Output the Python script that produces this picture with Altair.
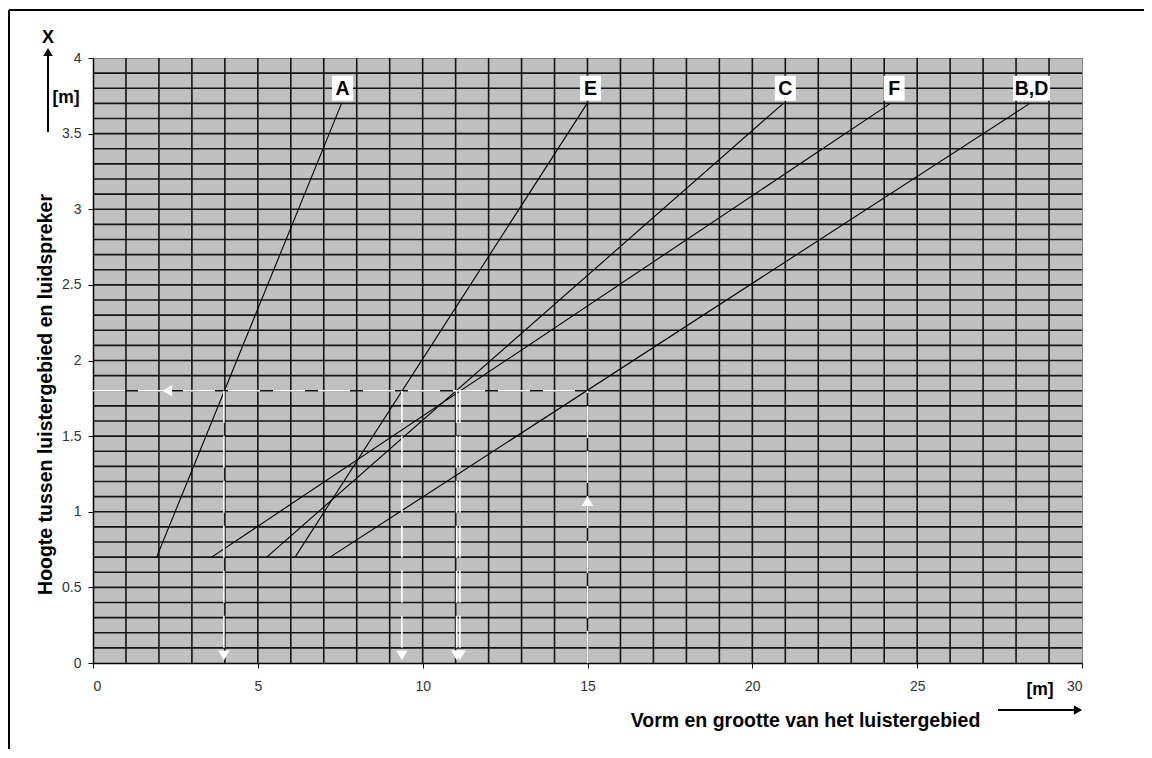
import altair as alt
import pandas as pd

# ---- data ----
series = ["A", "E", "C", "F", "B,D"]
x_start = [1.93, 6.13, 5.27, 3.60, 7.19]
x_end = [7.54, 14.99, 20.94, 24.19, 28.42]
y_start = [0.7, 0.7, 0.7, 0.7, 0.7]
y_end = [3.7, 3.7, 3.7, 3.7, 3.7]
label_x = [7.57, 15.09, 21.0, 24.3, 28.47]
label_y = [3.80, 3.80, 3.80, 3.80, 3.80]

# reading lines (dashed white guides)
guide_x1 = [0.0, 3.97, 9.37, 11.03, 11.13, 15.0]
guide_x2 = [15.0, 3.97, 9.37, 11.03, 11.13, 15.0]
guide_y1 = [1.8, 1.8, 1.8, 1.8, 1.8, 0.0]
guide_y2 = [1.8, 0.05, 0.05, 0.05, 0.05, 1.8]

arrow_x = [2.25, 3.97, 9.37, 11.03, 11.13, 15.0]
arrow_y = [1.8, 0.05, 0.05, 0.05, 0.05, 1.07]
arrow_shape = ["triangle-left", "triangle-down", "triangle-down", "triangle-down", "triangle-down", "triangle-up"]

x_ticks = [0, 5, 10, 15, 20, 25, 30]
y_ticks = [0, 0.5, 1, 1.5, 2, 2.5, 3, 3.5, 4]
grid_x = list(range(1, 30))
grid_y = [round(i * 0.1, 1) for i in range(1, 40)]

W, H = 989, 605
FONT = "Liberation Sans"
BIG = 19.5

# ---- tables ----
lines_df = pd.DataFrame(
    [{"s": s, "x": a, "y": c} for s, a, c in zip(series, x_start, y_start)]
    + [{"s": s, "x": b, "y": d} for s, b, d in zip(series, x_end, y_end)]
)
px_per_x = W / 30.0
px_per_y = H / 4.0
lab_rows = []
for s, lx, ly in zip(series, label_x, label_y):
    half_w = (13 + 8 * len(s)) / 2 / px_per_x
    half_h = 12.5 / px_per_y
    lab_rows.append({"s": s, "x": lx, "y": ly, "x1": lx - half_w, "x2": lx + half_w,
                     "y1": ly - half_h, "y2": ly + half_h})
labels_df = pd.DataFrame(lab_rows)
guides_df = pd.DataFrame({"x1": guide_x1, "x2": guide_x2, "y1": guide_y1, "y2": guide_y2})
arrows_df = pd.DataFrame({"x": arrow_x, "y": arrow_y, "shape": arrow_shape})
gx_df = pd.DataFrame({"v": grid_x})
gy_df = pd.DataFrame({"v": grid_y})
one = pd.DataFrame({"k": [0]})

xscale = alt.Scale(domain=[0, 30], nice=False, zero=False)
yscale = alt.Scale(domain=[0, 4], nice=False, zero=False)

xaxis = alt.Axis(
    values=x_ticks, grid=False, tickSize=5, tickColor="black", domainColor="black",
    domainWidth=1.5, labelPadding=11, labelFont=FONT, labelFontSize=14, labelColor="#333333",
    title="Vorm en grootte van het luistergebied", titleFont=FONT, titleFontSize=BIG,
    titleFontWeight="bold", titleColor="black", titleX=712, titleY=57,
    titleBaseline="middle", titleAlign="center",
)
yaxis = alt.Axis(
    values=y_ticks, format="~g", grid=False, tickSize=5, tickColor="black", domainColor="black",
    domainWidth=1.5, labelPadding=7, labelFont=FONT, labelFontSize=14, labelColor="#333333",
    title="Hoogte tussen luistergebied en luidspreker", titleFont=FONT, titleFontSize=BIG,
    titleFontWeight="bold", titleColor="black", titleX=-48, titleY=336,
    titleBaseline="middle", titleAlign="center", titleAngle=270,
)

grid_v = alt.Chart(gx_df).mark_rule(color="#151515", strokeWidth=1.6).encode(
    x=alt.X("v:Q", scale=xscale, axis=xaxis)
)
grid_h = alt.Chart(gy_df).mark_rule(color="#151515", strokeWidth=1.6).encode(
    y=alt.Y("v:Q", scale=yscale, axis=yaxis)
)
curves = alt.Chart(lines_df).mark_line(color="black", strokeWidth=1.1).encode(
    x=alt.X("x:Q", scale=xscale), y=alt.Y("y:Q", scale=yscale), detail="s:N"
)
guides = alt.Chart(guides_df).mark_rule(color="white", strokeWidth=1.6, strokeDash=[32, 13]).encode(
    x="x1:Q", x2="x2:Q", y="y1:Q", y2="y2:Q"
)
arrows = alt.Chart(arrows_df).mark_point(filled=True, color="white", opacity=1, size=130).encode(
    x="x:Q", y="y:Q", shape=alt.Shape("shape:N", scale=None)
)
boxes = alt.Chart(labels_df).mark_rect(color="white").encode(
    x="x1:Q", x2="x2:Q", y="y1:Q", y2="y2:Q"
)
texts = alt.Chart(labels_df).mark_text(
    font=FONT, fontSize=BIG, fontWeight="bold", color="black", baseline="middle", align="center", dy=1
).encode(x="x:Q", y="y:Q", text="s:N")

# decorations outside the plot area (pixel positions relative to plot origin)
frame_top = alt.Chart(one).mark_rule(color="black", strokeWidth=2).encode(
    x=alt.value(-84), x2=alt.value(1080), y=alt.value(-48)
)
frame_left = alt.Chart(one).mark_rule(color="black", strokeWidth=2).encode(
    x=alt.value(-84), y=alt.value(-48), y2=alt.value(720)
)
y_arrow_line = alt.Chart(one).mark_rule(color="black", strokeWidth=2).encode(
    x=alt.value(-45), y=alt.value(-6), y2=alt.value(74)
)
y_arrow_head = alt.Chart(one).mark_point(filled=True, color="black", opacity=1, shape="triangle-up", size=90).encode(
    x=alt.value(-45), y=alt.value(-6)
)
x_arrow_line = alt.Chart(one).mark_rule(color="black", strokeWidth=2).encode(
    x=alt.value(905), x2=alt.value(983), y=alt.value(652)
)
x_arrow_head = alt.Chart(one).mark_point(filled=True, color="black", opacity=1, shape="triangle-right", size=90).encode(
    x=alt.value(985), y=alt.value(652)
)
txt_X = alt.Chart(one).mark_text(font=FONT, fontSize=18, fontWeight="bold", color="black",
                                 baseline="middle", align="center").encode(
    x=alt.value(-45), y=alt.value(-20), text=alt.value("X")
)
txt_my = alt.Chart(one).mark_text(font=FONT, fontSize=17.5, fontWeight="bold", color="black",
                                  baseline="middle", align="center").encode(
    x=alt.value(-27), y=alt.value(40), text=alt.value("[m]")
)
txt_mx = alt.Chart(one).mark_text(font=FONT, fontSize=17.5, fontWeight="bold", color="black",
                                  baseline="middle", align="center").encode(
    x=alt.value(947), y=alt.value(632), text=alt.value("[m]")
)

chart = alt.layer(
    grid_v, grid_h, curves, guides, arrows, boxes, texts,
    frame_top, frame_left, y_arrow_line, y_arrow_head, x_arrow_line, x_arrow_head,
    txt_X, txt_my, txt_mx,
).properties(
    width=W, height=H,
    autosize=alt.AutoSizeParams(type="none"),
    padding={"left": 85, "top": 50, "right": 62, "bottom": 86},
    background="white",
).configure_view(
    fill="#c0c0c0", stroke="#808080", strokeWidth=1
)

chart.save("out.html", embed_options={"renderer": "svg", "actions": False})
